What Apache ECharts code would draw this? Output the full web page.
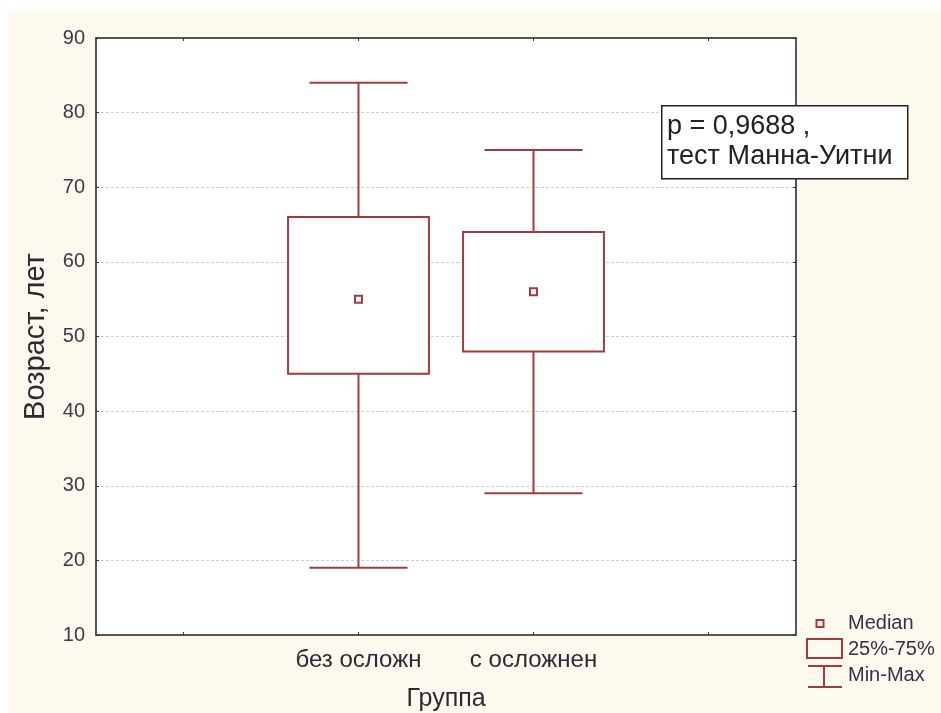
<!DOCTYPE html>
<html>
<head>
<meta charset="utf-8">
<script src="https://cdn.jsdelivr.net/npm/echarts@6/dist/echarts.min.js"></script>
<style>
  html, body { margin: 0; padding: 0; background: #ffffff; }
  #chart { position: absolute; left: 8px; top: 11px; width: 933px; height: 702px; }
</style>
</head>
<body>
<div id="chart"></div>
<script>
// categories (empty slots on both ends, like the original plot)
const groups = ['', 'без осложн', 'с осложнен', ''];
// values per group: min, q1, median, q3, max
const mins = [19, 29];
const q1s = [45, 48];
const medians = [55, 56];
const q3s = [66, 64];
const maxs = [84, 75];
const yTicks = { min: 10, max: 90, step: 10 };

const RED = '#a33a3e';
const TXT = '#2b2b33';
const FONT = 'Liberation Sans, Arial, sans-serif';

const boxData = mins.map((m, i) => [i + 1, m, q1s[i], medians[i], q3s[i], maxs[i]]);

const chart = echarts.init(document.getElementById('chart'));

function renderBox(params, api) {
  const x = api.value(0);
  const pMin = api.coord([x, api.value(1)]);
  const pQ1 = api.coord([x, api.value(2)]);
  const pMed = api.coord([x, api.value(3)]);
  const pQ3 = api.coord([x, api.value(4)]);
  const pMax = api.coord([x, api.value(5)]);
  const w = api.size([1, 0])[0];
  const bw = w * 0.805, cw = w * 0.56;
  const cx = pMed[0];
  const line = { stroke: RED, lineWidth: 2 };
  return {
    type: 'group',
    children: [
      { type: 'line', shape: { x1: cx, y1: pMax[1], x2: cx, y2: pQ3[1] }, style: line },
      { type: 'line', shape: { x1: cx, y1: pQ1[1], x2: cx, y2: pMin[1] }, style: line },
      { type: 'line', shape: { x1: cx - cw / 2, y1: pMax[1], x2: cx + cw / 2, y2: pMax[1] }, style: line },
      { type: 'line', shape: { x1: cx - cw / 2, y1: pMin[1], x2: cx + cw / 2, y2: pMin[1] }, style: line },
      { type: 'rect', shape: { x: cx - bw / 2, y: pQ3[1], width: bw, height: pQ1[1] - pQ3[1] },
        style: { fill: '#fff', stroke: RED, lineWidth: 2 } },
      { type: 'rect', shape: { x: cx - 3.5, y: pMed[1] - 3.5, width: 7, height: 7 },
        style: { fill: '#fff', stroke: RED, lineWidth: 2 } }
    ]
  };
}

const frame = { show: true, lineStyle: { color: '#555', width: 2 } };
const ticks = { show: true, inside: true, length: 3, lineStyle: { color: '#333' } };

chart.setOption({
  backgroundColor: '#fdf9ef',
  animation: false,
  textStyle: { fontFamily: FONT },
  grid: {
    left: 88, right: 145, top: 27, bottom: 78,
    outerBoundsMode: 'none',
    show: true, backgroundColor: '#ffffff', borderWidth: 0
  },
  xAxis: [{
    type: 'category',
    data: groups,
    axisLine: frame,
    axisTick: Object.assign({ alignWithLabel: true }, ticks),
    axisLabel: { fontSize: 24, color: TXT, margin: 13 },
    name: 'Группа',
    nameLocation: 'middle',
    nameGap: 52,
    nameTextStyle: { fontSize: 25, color: TXT }
  }, {
    type: 'category',
    data: groups,
    position: 'top',
    axisLine: frame,
    axisTick: Object.assign({ alignWithLabel: true }, ticks),
    axisLabel: { show: false }
  }],
  yAxis: [{
    type: 'value',
    min: yTicks.min, max: yTicks.max, interval: yTicks.step,
    axisLine: frame,
    axisTick: ticks,
    axisLabel: { fontSize: 20, color: '#3a3a46', margin: 11 },
    splitLine: { show: true, lineStyle: { color: '#cfcfcf', type: [3, 2], width: 1 } },
    name: 'Возраст, лет',
    nameLocation: 'middle',
    nameGap: 46,
    nameTextStyle: { fontSize: 29, color: TXT }
  }, {
    type: 'value',
    position: 'right',
    min: yTicks.min, max: yTicks.max, interval: yTicks.step,
    axisLine: frame,
    axisTick: ticks,
    axisLabel: { show: false },
    splitLine: { show: false }
  }],
  series: [{
    type: 'custom',
    xAxisIndex: 0,
    yAxisIndex: 0,
    renderItem: renderBox,
    data: boxData,
    z: 5
  }],
  graphic: [
    // p-value annotation
    { type: 'rect', left: 653, top: 94, shape: { width: 246, height: 73 },
      style: { fill: '#fff', stroke: '#222', lineWidth: 1.5 }, z: 10 },
    { type: 'text', left: 659, top: 101,
      style: { text: 'p = 0,9688 ,\nтест Манна-Уитни', fontSize: 27, lineHeight: 30, fill: '#222',
        fontFamily: FONT }, z: 11 },
    // legend
    { type: 'rect', shape: { x: 808.5, y: 609, width: 7, height: 7 },
      style: { fill: 'none', stroke: RED, lineWidth: 2 } },
    { type: 'rect', shape: { x: 799, y: 628, width: 35, height: 19 },
      style: { fill: 'none', stroke: RED, lineWidth: 2 } },
    { type: 'polyline', shape: { points: [[800, 655], [834, 655]] }, style: { stroke: RED, lineWidth: 2 } },
    { type: 'polyline', shape: { points: [[816, 655], [816, 676]] }, style: { stroke: RED, lineWidth: 2 } },
    { type: 'polyline', shape: { points: [[800, 676], [834, 676]] }, style: { stroke: RED, lineWidth: 2 } },
    { type: 'text', style: { x: 840, y: 612, text: 'Median', fontSize: 20, fill: '#333344', verticalAlign: 'middle', fontFamily: FONT } },
    { type: 'text', style: { x: 840, y: 638, text: '25%-75%', fontSize: 20, fill: '#333344', verticalAlign: 'middle', fontFamily: FONT } },
    { type: 'text', style: { x: 840, y: 664, text: 'Min-Max', fontSize: 20, fill: '#333344', verticalAlign: 'middle', fontFamily: FONT } }
  ]
});
</script>
</body>
</html>
